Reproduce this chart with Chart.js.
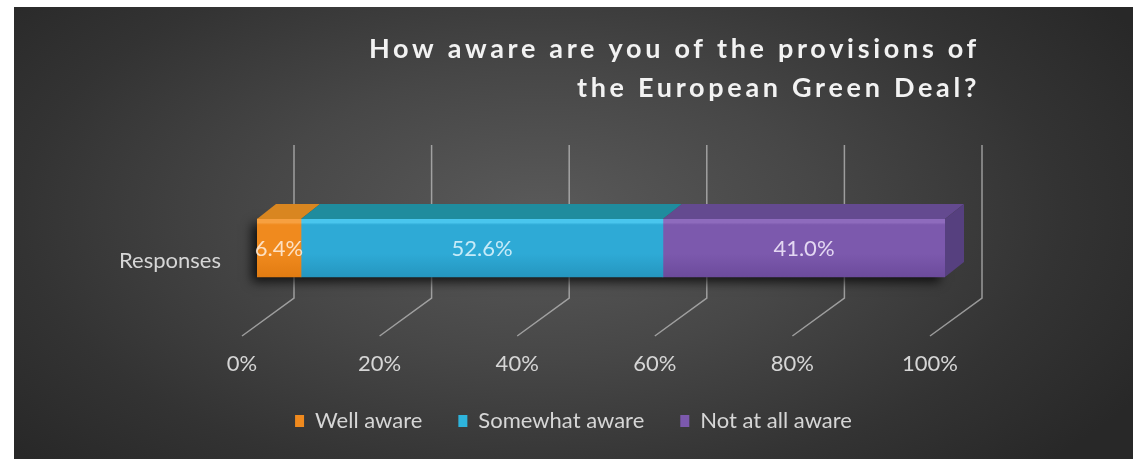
<!DOCTYPE html>
<html>
<head>
<meta charset="utf-8">
<script src="https://cdn.jsdelivr.net/npm/chart.js@4.4.1/dist/chart.umd.min.js"></script>
<style>
  html, body { margin: 0; padding: 0; background: #ffffff; }
  body { width: 1133px; height: 459px; overflow: hidden; position: relative; }
  #panel {
    position: absolute; left: 14px; top: 7px; width: 1119px; height: 452px;
    background: radial-gradient(ellipse 62% 80% at 47% 46%, #5a5a5a 0%, #474747 40%, #333333 75%, #282828 100%);
  }
  canvas { display: block; }
</style>
</head>
<body>
<div id="panel"><canvas id="chart" width="1119" height="452"></canvas></div>
<script>
// ---- data ----
const categories = ['Responses'];
const seriesNames = ['Well aware', 'Somewhat aware', 'Not at all aware'];
const wellAware = [6.4];
const somewhatAware = [52.6];
const notAtAllAware = [41.0];
const tickValues = [0, 20, 40, 60, 80, 100];
const titleLines = ['How aware are you of the provisions of', 'the European Green Deal?'];

// ---- styling ----
const FONT = 'Lato, "Open Sans", "Noto Sans", sans-serif';
const TEXT = '#d6d6d6';
const palette = [
  { hi: '#f7a040', front: '#f08a1e', low: '#e27c12', top: '#d98620', side: '#c8701a', legend: '#f08a1e', label: 'rgba(255,240,225,0.85)' },
  { hi: '#49c6ee', front: '#2eaad6', low: '#2596bf', top: '#1f8c9e', side: '#1b7c8e', legend: '#2eb4dc', label: 'rgba(215,242,252,0.9)' },
  { hi: '#8e6bbd', front: '#7c59ad', low: '#6c4b9c', top: '#644a90', side: '#56407f', legend: '#7c59ad', label: 'rgba(238,228,250,0.9)' }
];
const seriesValues = [wellAware, somewhatAware, notAtAllAware];
const BAR_THICKNESS = 58;
const BAR_DEPTH = { dx: 19, dy: -15 };      // top / side face skew of the bars
const FLOOR = { front: -15, back: 37, rise: 38, wallOver: 15 }; // 3D floor and back wall

function frontFill(i) {
  return (ctx) => {
    const chart = ctx.chart;
    const yScale = chart.scales.y;
    if (!chart.chartArea || !yScale) return palette[i].front;
    const c = yScale.getPixelForValue(0);
    const t = c - BAR_THICKNESS / 2, b = c + BAR_THICKNESS / 2;
    const g = chart.ctx.createLinearGradient(0, t, 0, b);
    g.addColorStop(0, palette[i].hi);
    g.addColorStop(0.06, palette[i].hi);
    g.addColorStop(0.1, palette[i].front);
    g.addColorStop(0.6, palette[i].front);
    g.addColorStop(1, palette[i].low);
    return g;
  };
}

// back wall / floor grid lines and the bar's drop shadow
const backdrop3d = {
  id: 'backdrop3d',
  afterLayout(chart) {
    // centre the legend across the whole panel
    const lg = chart.legend;
    if (lg) { lg.left = 0; lg.right = chart.width; lg.width = chart.width; }
  },
  beforeDatasetsDraw(chart) {
    const { ctx, chartArea } = chart;
    const xs = chart.scales.x;
    ctx.save();
    ctx.strokeStyle = 'rgba(200,200,200,0.68)';
    ctx.lineWidth = 1.5;
    xs.ticks.forEach(t => {
      const px = xs.getPixelForValue(t.value);
      ctx.beginPath();
      ctx.moveTo(px + FLOOR.front, chartArea.bottom);
      ctx.lineTo(px + FLOOR.back, chartArea.bottom - FLOOR.rise);
      ctx.lineTo(px + FLOOR.back, chartArea.top - FLOOR.wallOver);
      ctx.stroke();
    });
    // shadow under the stacked bar
    const metas = chart.getSortedVisibleDatasetMetas();
    if (metas.length) {
      const first = metas[0].data[0].getProps(['x', 'y', 'base', 'height'], true);
      const last = metas[metas.length - 1].data[0].getProps(['x', 'y', 'base', 'height'], true);
      const top = first.y - first.height / 2, bot = first.y + first.height / 2;
      ctx.shadowColor = 'rgba(0,0,0,0.75)';
      ctx.shadowBlur = 10;
      ctx.shadowOffsetX = -5;
      ctx.shadowOffsetY = 5;
      ctx.fillStyle = '#222';
      ctx.fillRect(first.base, top, last.x - first.base, bot - top);
    }
    ctx.restore();
  }
};

// top and side faces of the bars plus value labels
const bar3d = {
  id: 'bar3d',
  afterDatasetsDraw(chart) {
    const { ctx } = chart;
    const metas = chart.getSortedVisibleDatasetMetas();
    ctx.save();
    metas.forEach((meta, mi) => {
      const p = palette[meta.index];
      meta.data.forEach(el => {
        const { x, y, base, height } = el.getProps(['x', 'y', 'base', 'height'], true);
        const top = y - height / 2, bot = y + height / 2;
        ctx.fillStyle = p.top;
        ctx.beginPath();
        ctx.moveTo(base, top);
        ctx.lineTo(x, top);
        ctx.lineTo(x + BAR_DEPTH.dx, top + BAR_DEPTH.dy);
        ctx.lineTo(base + BAR_DEPTH.dx, top + BAR_DEPTH.dy);
        ctx.closePath();
        ctx.fill();
        if (mi === metas.length - 1) {
          ctx.fillStyle = p.side;
          ctx.beginPath();
          ctx.moveTo(x, top);
          ctx.lineTo(x + BAR_DEPTH.dx, top + BAR_DEPTH.dy);
          ctx.lineTo(x + BAR_DEPTH.dx, bot + BAR_DEPTH.dy);
          ctx.lineTo(x, bot);
          ctx.closePath();
          ctx.fill();
        }
      });
    });
    // value labels
    ctx.font = '22px ' + FONT;
    ctx.textAlign = 'center';
    ctx.textBaseline = 'middle';
    metas.forEach(meta => {
      const values = chart.data.datasets[meta.index].data;
      meta.data.forEach((el, j) => {
        const { x, y, base } = el.getProps(['x', 'y', 'base'], true);
        ctx.fillStyle = palette[meta.index].label;
        ctx.fillText(values[j].toFixed(1) + '%', (x + base) / 2, y + 1);
      });
    });
    ctx.restore();
  }
};

// spaced-out two-line title, right aligned to the back wall
const spacedTitle = {
  id: 'spacedTitle',
  afterDraw(chart) {
    const { ctx } = chart;
    const xs = chart.scales.x;
    const right = xs.getPixelForValue(tickValues[tickValues.length - 1]) + FLOOR.back - 2;
    ctx.save();
    ctx.font = 'bold 27px ' + FONT;
    ctx.fillStyle = '#f2f2f2';
    ctx.textAlign = 'right';
    ctx.textBaseline = 'alphabetic';
    if ('letterSpacing' in ctx) ctx.letterSpacing = '3.7px';
    ctx.fillText(titleLines[0], right, 51);
    ctx.fillText(titleLines[1], right, 90);
    ctx.restore();
  }
};

const datasets = seriesNames.map((name, i) => ({
  label: name,
  data: seriesValues[i],
  backgroundColor: frontFill(i),
  borderWidth: 0,
  barThickness: BAR_THICKNESS
}));

new Chart(document.getElementById('chart'), {
  type: 'bar',
  data: { labels: categories, datasets },
  plugins: [backdrop3d, bar3d, spacedTitle],
  options: {
    indexAxis: 'y',
    responsive: false,
    animation: false,
    devicePixelRatio: 1,
    layout: { padding: { left: 40, right: 188, top: 153, bottom: 17 } },
    scales: {
      x: {
        stacked: true,
        min: 0,
        max: 100,
        grid: { display: false, drawTicks: false },
        border: { display: false },
        afterBuildTicks(scale) { scale.ticks = tickValues.map(v => ({ value: v })); },
        afterFit(scale) { scale.height = 38; },
        ticks: {
          color: TEXT,
          font: { family: FONT, size: 22 },
          padding: 15,
          labelOffset: FLOOR.front,
          maxRotation: 0,
          callback: v => v + '%'
        }
      },
      y: {
        stacked: true,
        grid: { display: false, drawTicks: false },
        border: { display: false },
        afterFit(scale) { scale.width = 203; },
        ticks: {
          color: TEXT,
          font: { family: FONT, size: 22 },
          padding: 36,
          labelOffset: 13
        }
      }
    },
    plugins: {
      title: { display: false },
      tooltip: { enabled: false },
      legend: {
        display: true,
        position: 'bottom',
        labels: {
          color: TEXT,
          font: { family: FONT, size: 22 },
          boxWidth: 9,
          boxHeight: 12,
          padding: 36,
          generateLabels(chart) {
            const items = Chart.defaults.plugins.legend.labels.generateLabels(chart);
            items.forEach((it, i) => { it.fillStyle = palette[i].legend; it.strokeStyle = 'rgba(0,0,0,0)'; it.lineWidth = 0; });
            return items;
          }
        }
      }
    }
  }
});
</script>
</body>
</html>
